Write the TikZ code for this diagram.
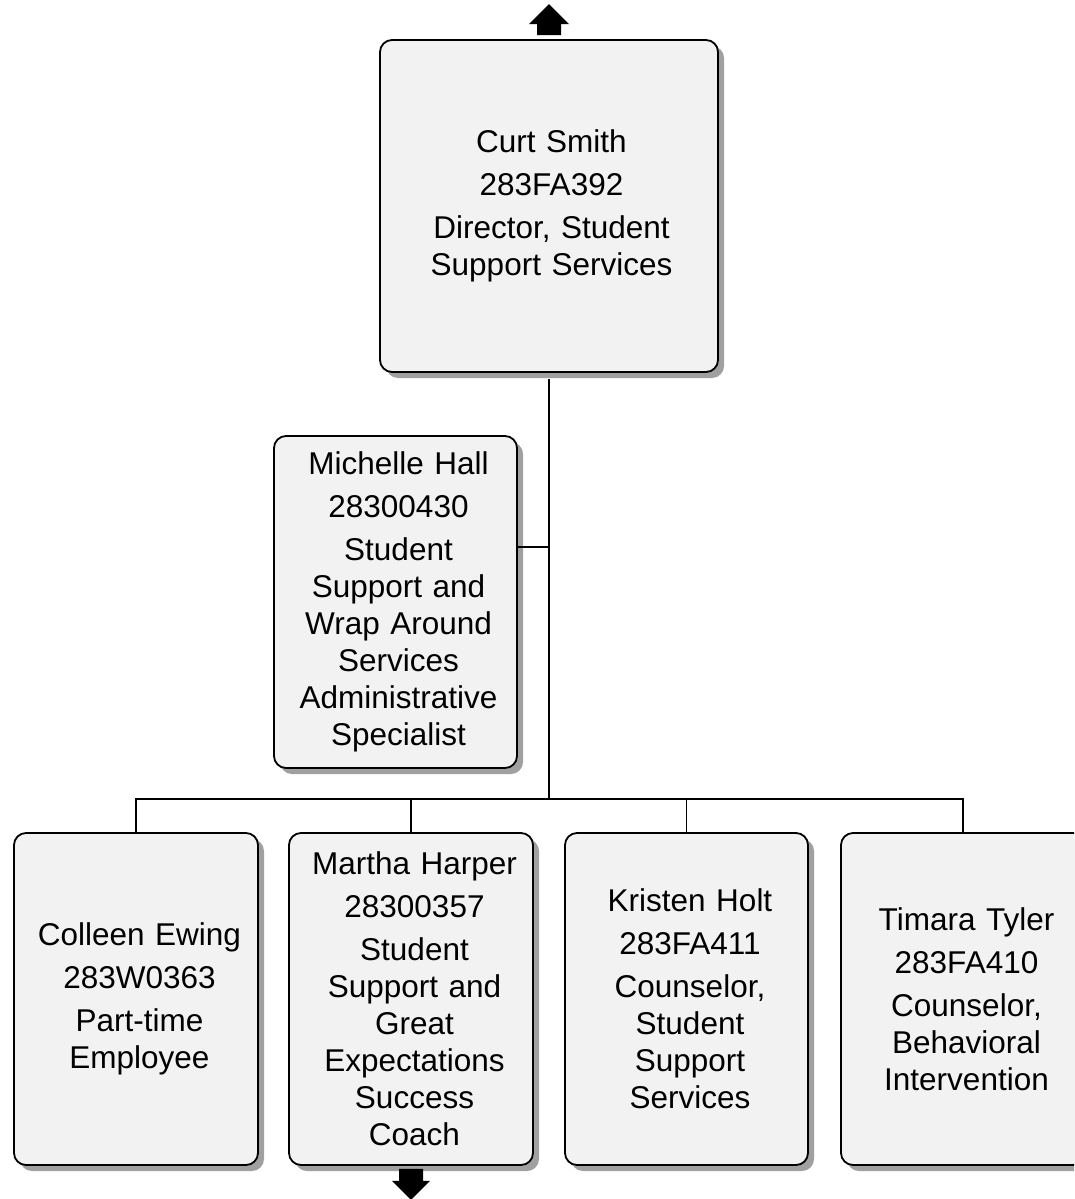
\documentclass[tikz,border=0pt]{standalone}
\usepackage{fontspec}
\setmainfont{Liberation Sans}
\usetikzlibrary{shadows,calc}
\definecolor{boxfill}{HTML}{F2F2F2}
\definecolor{shadowgray}{HTML}{A0A0A0}
\tikzset{
  orgbox/.style={rectangle, rounded corners=12pt, draw=black, line width=1.8pt, fill=boxfill,
    inner sep=0pt, minimum height=332pt, align=center,
    font=\fontsize{31.5}{37}\selectfont,
    drop shadow={shadow xshift=6pt, shadow yshift=-6pt, fill=shadowgray, opacity=1}},
  link/.style={draw=black, line width=1.5pt},
  offpage/.style={fill=black, draw=none}
}
\newcommand{\pgap}{\\[6pt]}
\begin{document}
\begin{tikzpicture}[x=1pt,y=-1pt]
\clip (0,0) rectangle (1074,1199);
\fill[white] (0,0) rectangle (1074,1199);
\coordinate (bus) at (549,799);
\coordinate (mj) at (549,547);
\node[orgbox, minimum width=338pt, text width=320pt] (curt) at (549,206)
  {\hspace*{5pt}Curt Smith\pgap\hspace*{5pt}283FA392\pgap\hspace*{5pt}Director, Student\\\hspace*{5pt}Support Services};
\node[orgbox, minimum width=243pt, text width=235pt] (michelle) at (395.5,602)
  {\hspace*{6pt}Michelle Hall\pgap\hspace*{6pt}28300430\pgap\hspace*{6pt}Student\\\hspace*{6pt}Support and\\\hspace*{6pt}Wrap Around\\\hspace*{6pt}Services\\\hspace*{6pt}Administrative\\\hspace*{6pt}Specialist};
\node[orgbox, minimum width=244pt, text width=235pt] (colleen) at (136,999)
  {\hspace*{7pt}Colleen Ewing\pgap\hspace*{7pt}283W0363\pgap\hspace*{7pt}Part-time\\\hspace*{7pt}Employee};
\node[orgbox, minimum width=244pt, text width=235pt] (martha) at (411,999)
  {\hspace*{7pt}Martha Harper\pgap\hspace*{7pt}28300357\pgap\hspace*{7pt}Student\\\hspace*{7pt}Support and\\\hspace*{7pt}Great\\\hspace*{7pt}Expectations\\\hspace*{7pt}Success\\\hspace*{7pt}Coach};
\node[orgbox, minimum width=243pt, text width=235pt] (kristen) at (686.5,999)
  {\hspace*{7pt}Kristen Holt\pgap\hspace*{7pt}283FA411\pgap\hspace*{7pt}Counselor,\\\hspace*{7pt}Student\\\hspace*{7pt}Support\\\hspace*{7pt}Services};
\node[orgbox, minimum width=244pt, text width=235pt] (timara) at (963,999)
  {\hspace*{7pt}Timara Tyler\pgap\hspace*{7pt}283FA410\pgap\hspace*{7pt}Counselor,\\\hspace*{7pt}Behavioral\\\hspace*{7pt}Intervention};
% connectors
\draw[link] ($(curt.south)+(0,6)$) -- (bus);
\draw[link] (mj) -- (michelle.east |- mj);
\draw[link] (bus) -| (colleen.north);
\draw[link] (bus) -| (martha.north);
\draw[link] (bus) -| (kristen.north);
\draw[link] (bus) -| (timara.north);
% off-page arrows
\fill[offpage] ($(curt.north)+(-12,-4)$) -- ++(0,-11) -- ++(-8,0) -- ($(curt.north)+(0,-35)$)
  -- ($(curt.north)+(20,-15)$) -- ++(-8,0) -- ++(0,11) -- cycle;
\fill[offpage] ($(martha.south)+(-12,3)$) -- ++(0,12) -- ++(-7,0) -- ($(martha.south)+(0,34)$)
  -- ($(martha.south)+(19,15)$) -- ++(-7,0) -- ++(0,-12) -- cycle;
\end{tikzpicture}
\end{document}
